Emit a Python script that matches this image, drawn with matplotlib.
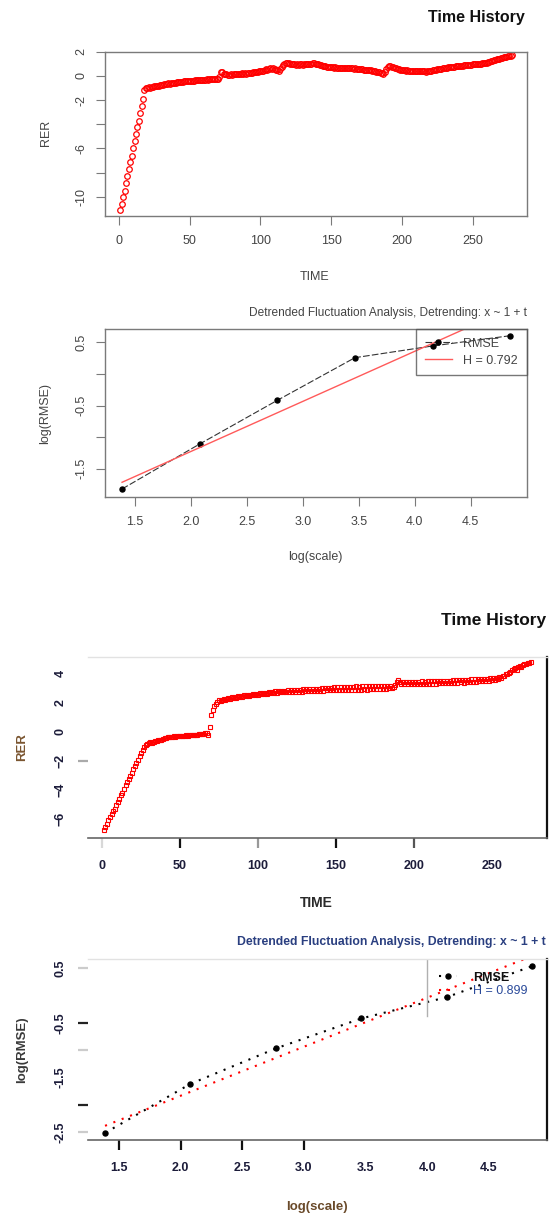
import numpy as np
import matplotlib
matplotlib.use("Agg")
import matplotlib.pyplot as plt
from matplotlib.lines import Line2D

plt.rcParams['font.family'] = ['Liberation Sans', 'DejaVu Sans']

# ---------------- data ----------------
rer_a = [
    -11.1, -10.6, -10.0, -9.5, -8.9, -8.3, -7.7, -7.1, -6.6, -6.0,
    -5.4, -4.8, -4.2, -3.7, -3.1, -2.5, -1.9, -1.15, -0.98, -1.02,
    -0.95, -0.97, -0.90, -0.92, -0.85, -0.88, -0.82, -0.80, -0.78, -0.74,
    -0.76, -0.70, -0.68, -0.66, -0.63, -0.65, -0.60, -0.58, -0.56, -0.57,
    -0.53, -0.50, -0.52, -0.48, -0.47, -0.45, -0.46, -0.44, -0.42, -0.40,
    -0.41, -0.39, -0.40, -0.37, -0.36, -0.38, -0.35, -0.33, -0.34, -0.32,
    -0.31, -0.30, -0.32, -0.29, -0.28, -0.30, -0.27, -0.25, -0.29, -0.26,
    -0.10, 0.28, 0.30, 0.18, 0.12, 0.15, 0.10, 0.08, 0.12, 0.10,
    0.14, 0.12, 0.16, 0.13, 0.18, 0.15, 0.20, 0.17, 0.22, 0.19,
    0.21, 0.24, 0.20, 0.26, 0.30, 0.28, 0.34, 0.32, 0.38, 0.40,
    0.44, 0.42, 0.50, 0.55, 0.52, 0.60, 0.64, 0.58, 0.62, 0.55,
    0.50, 0.46, 0.44, 0.58, 0.75, 0.92, 1.02, 1.06, 1.08, 1.04,
    1.00, 0.98, 0.95, 0.97, 0.93, 0.96, 0.94, 0.97, 0.95, 0.92,
    0.96, 0.99, 0.97, 1.00, 1.02, 0.98, 1.03, 1.05, 1.01, 0.99,
    0.96, 0.92, 0.88, 0.84, 0.80, 0.78, 0.74, 0.76, 0.72, 0.70,
    0.72, 0.69, 0.71, 0.68, 0.66, 0.69, 0.67, 0.65, 0.68, 0.66,
    0.64, 0.66, 0.63, 0.61, 0.64, 0.60, 0.62, 0.59, 0.57, 0.58,
    0.55, 0.53, 0.50, 0.52, 0.48, 0.46, 0.49, 0.45, 0.43, 0.41,
    0.38, 0.36, 0.33, 0.30, 0.26, 0.20, 0.16, 0.30, 0.55, 0.72,
    0.82, 0.80, 0.76, 0.72, 0.68, 0.62, 0.58, 0.55, 0.50, 0.48,
    0.46, 0.47, 0.44, 0.45, 0.42, 0.44, 0.41, 0.43, 0.40, 0.42,
    0.39, 0.41, 0.38, 0.40, 0.37, 0.39, 0.36, 0.38, 0.40, 0.42,
    0.44, 0.46, 0.48, 0.50, 0.53, 0.55, 0.57, 0.60, 0.62, 0.64,
    0.66, 0.69, 0.71, 0.73, 0.75, 0.77, 0.76, 0.79, 0.81, 0.80,
    0.83, 0.85, 0.84, 0.87, 0.89, 0.88, 0.91, 0.93, 0.92, 0.95,
    0.97, 0.96, 0.99, 1.01, 0.99, 1.02, 1.04, 1.03, 1.06, 1.08,
    1.12, 1.16, 1.20, 1.24, 1.28, 1.32, 1.36, 1.40, 1.43, 1.47,
    1.50, 1.53, 1.57, 1.60, 1.63, 1.65, 1.68, 1.70,
]
time_a = np.arange(1, len(rer_a) + 1)

rer_b = [
    -6.80, -6.55, -6.35, -6.10, -5.90, -5.70, -5.45, -5.30, -5.05, -4.85,
    -4.65, -4.40, -4.20, -3.95, -3.70, -3.50, -3.25, -3.05, -2.85, -2.60,
    -2.40, -2.15, -1.95, -1.70, -1.50, -1.25, -1.05, -0.92, -0.85, -0.78,
    -0.72, -0.75, -0.68, -0.64, -0.66, -0.60, -0.55, -0.58, -0.50, -0.46,
    -0.44, -0.40, -0.36, -0.38, -0.34, -0.33, -0.35, -0.31, -0.32, -0.30,
    -0.29, -0.28, -0.30, -0.26, -0.27, -0.25, -0.26, -0.24, -0.22, -0.23,
    -0.20, -0.18, -0.16, -0.17, -0.13, -0.12, -0.10, -0.20, 0.32, 1.15,
    1.50, 1.75, 1.90, 2.05, 2.15, 2.10, 2.18, 2.22, 2.20, 2.26,
    2.30, 2.24, 2.36, 2.32, 2.38, 2.33, 2.44, 2.38, 2.45, 2.41,
    2.50, 2.44, 2.52, 2.47, 2.56, 2.50, 2.58, 2.53, 2.62, 2.56,
    2.66, 2.58, 2.68, 2.62, 2.70, 2.63, 2.74, 2.66, 2.75, 2.68,
    2.78, 2.69, 2.80, 2.71, 2.81, 2.72, 2.83, 2.73, 2.84, 2.75,
    2.86, 2.74, 2.88, 2.76, 2.87, 2.77, 2.90, 2.76, 2.91, 2.79,
    2.92, 2.78, 2.94, 2.80, 2.93, 2.81, 2.96, 2.80, 2.97, 2.83,
    2.98, 2.82, 3.02, 2.84, 3.00, 2.85, 3.04, 2.84, 3.05, 2.86,
    3.06, 2.85, 3.08, 2.87, 3.07, 2.88, 3.09, 2.86, 3.10, 2.89,
    3.11, 2.88, 3.12, 2.90, 3.10, 2.89, 3.13, 2.91, 3.12, 2.90,
    3.14, 2.92, 3.13, 2.93, 3.15, 2.92, 3.14, 2.94, 3.16, 2.95,
    3.15, 2.96, 3.17, 2.98, 3.14, 3.00, 3.08, 3.20, 3.40, 3.55,
    3.42, 3.30, 3.44, 3.28, 3.42, 3.26, 3.45, 3.29, 3.43, 3.27,
    3.46, 3.28, 3.44, 3.30, 3.47, 3.29, 3.45, 3.31, 3.48, 3.30,
    3.47, 3.32, 3.49, 3.31, 3.50, 3.33, 3.48, 3.34, 3.51, 3.33,
    3.52, 3.35, 3.50, 3.37, 3.54, 3.36, 3.55, 3.38, 3.53, 3.40,
    3.57, 3.39, 3.58, 3.42, 3.56, 3.44, 3.60, 3.43, 3.62, 3.46,
    3.60, 3.47, 3.64, 3.49, 3.63, 3.50, 3.66, 3.52, 3.68, 3.54,
    3.70, 3.56, 3.72, 3.60, 3.75, 3.70, 3.82, 3.84, 3.95, 3.98,
    4.06, 4.14, 4.22, 4.30, 4.40, 4.26, 4.45, 4.52, 4.44, 4.60,
    4.64, 4.70, 4.76, 4.72, 4.83,
]
time_b = np.arange(1, len(rer_b) + 1)

scales = [4, 8, 16, 32, 64, 128]
log_scale = np.log(scales)
log_rmse_a = [-1.818, -1.107, -0.417, 0.257, 0.442, 0.604]
hurst_a, icpt_a = 0.792, -2.81
log_rmse_b = [-2.52, -1.62, -0.97, -0.42, -0.03, 0.54]
hurst_b, icpt_b = 0.899, -3.636

x_ticks_time = [0, 50, 100, 150, 200, 250]
x_ticks_log = [1.5, 2.0, 2.5, 3.0, 3.5, 4.0, 4.5]
title_dfa = "Detrended Fluctuation Analysis, Detrending: x ~ 1 + t"

# ---------------- layout helpers ----------------
W, H = 549, 1218
fig = plt.figure(figsize=(W / 100, H / 100), dpi=100)


def ax_at(x0, x1, y0, y1):
    return fig.add_axes([x0 / W, 1 - y1 / H, (x1 - x0) / W, (y1 - y0) / H])


def ftext(x, y, s, **kw):
    fig.text(x / W, 1 - y / H, s, **kw)


GRAY = '#7a7a7a'


def r_style(ax):
    for sp in ax.spines.values():
        sp.set_color(GRAY)
        sp.set_linewidth(1.0)
    ax.tick_params(axis='both', direction='out', length=6.3, width=0.8,
                   color=GRAY, labelsize=9, labelcolor='#444444')
    ax.tick_params(axis='x', pad=7.5)
    ax.tick_params(axis='y', pad=6.5)
    for lab in ax.get_yticklabels():
        lab.set_rotation(90)
        lab.set_va('center')


# ---------------- panel 1 ----------------
ax1 = ax_at(105, 526.8, 51.7, 216)
ax1.plot(time_a, rer_a, ls='none', marker='o', mfc='none', mec='red',
         ms=4.0, mew=0.9)
ax1.set_xlim(-9.9, 288.4)
ax1.set_ylim(-11.6, 2.0)
ax1.set_xticks(x_ticks_time)
ax1.set_yticks([2, 0, -2, -4, -6, -8, -10])
ax1.set_yticklabels(['2', '0', '-2', '', '-6', '', '-10'])
r_style(ax1)
ftext(525, 17.5, 'Time History', ha='right', va='center', fontsize=11.5,
      fontweight='bold', color='#111111')
ftext(315, 276.7, 'TIME', ha='center', va='center', fontsize=9, color='#444444')
ftext(45.5, 133, 'RER', ha='center', va='center', rotation=90, fontsize=9,
      color='#444444')

# ---------------- panel 2 ----------------
ax2 = ax_at(105, 526.8, 329, 496.7)
ax2.plot(log_scale, log_rmse_a, color='#333333', ls=(0, (6, 2)), lw=0.8,
         marker='o', ms=3.6, mfc='black', mec='black', label='RMSE')
ax2.plot(log_scale, icpt_a + hurst_a * log_scale, color='#ff5a5a', lw=1.0,
         label='H = %.3f' % hurst_a)
ax2.set_xlim(1.234, 5.0)
ax2.set_ylim(-1.94, 0.71)
ax2.set_xticks(x_ticks_log)
ax2.set_yticks([0.5, 0.0, -0.5, -1.0, -1.5])
ax2.set_yticklabels(['0.5', '', '-0.5', '', '-1.5'])
r_style(ax2)
leg = ax2.legend(loc='upper right', bbox_to_anchor=(1, 1), borderaxespad=0,
                 fancybox=False, fontsize=9, handlelength=2.2,
                 handletextpad=0.9, borderpad=0.7, labelspacing=0.4)
leg.get_frame().set_edgecolor('#555555')
leg.get_frame().set_linewidth(1.0)
leg.get_frame().set_facecolor('none')
for t in leg.get_texts():
    t.set_color('#444444')
ftext(526.8, 313.3, title_dfa, ha='right', va='center', fontsize=8.6,
      color='#444444')
ftext(315, 556.7, 'log(scale)', ha='center', va='center', fontsize=9,
      color='#444444')
ftext(45.5, 413, 'log(RMSE)', ha='center', va='center', rotation=90,
      fontsize=9, color='#444444')


def odd_style(ax, xtick_cols, ytick_cols):
    ax.spines['left'].set_visible(False)
    ax.spines['top'].set_color('#e2e2e2')
    ax.spines['top'].set_linewidth(1.0)
    ax.spines['right'].set_color('#111111')
    ax.spines['right'].set_linewidth(1.6)
    ax.spines['bottom'].set_color('#666666')
    ax.spines['bottom'].set_linewidth(1.2)
    ax.tick_params(axis='both', direction='out', length=7, width=1.6,
                   labelsize=9, labelcolor='#1c1c3a')
    ax.tick_params(axis='x', pad=9)
    ax.tick_params(axis='y', pad=8)
    for tk, c in zip(ax.xaxis.get_major_ticks(), xtick_cols):
        tk.tick1line.set_markeredgecolor(c)
    for tk, c in zip(ax.yaxis.get_major_ticks(), ytick_cols):
        tk.tick1line.set_markeredgecolor(c)
    for lab in ax.get_xticklabels() + ax.get_yticklabels():
        lab.set_fontweight('bold')
    for lab in ax.get_yticklabels():
        lab.set_rotation(90)
        lab.set_va('center')


# ---------------- panel 3 ----------------
ax3 = ax_at(87.5, 546.7, 656.7, 837.7)
ax3.plot(time_b, rer_b, ls='none', marker='s', mfc='none', mec='red',
         ms=3.2, mew=0.8)
ax3.set_xlim(-9.43, 285.3)
ax3.set_ylim(-7.31, 5.17)
ax3.set_xticks(x_ticks_time)
ax3.set_yticks([4, 2, 0, -2, -4, -6])
odd_style(ax3, ['#d8d8d8', '#111111', '#999999', '#111111', '#555555', 'none'],
          ['none', 'none', 'none', '#aaaaaa', 'none', 'none'])
ftext(546, 620, 'Time History', ha='right', va='center', fontsize=12.5,
      fontweight='bold', color='#111111')
ftext(316.8, 903.3, 'TIME', ha='center', va='center', fontsize=10,
      fontweight='bold', color='#2a2a2a')
ftext(21.7, 746.7, 'RER', ha='center', va='center', rotation=90, fontsize=9.5,
      fontweight='bold', color='#7a5530')

# ---------------- panel 4 ----------------
ax4 = ax_at(87.5, 546.7, 959.3, 1140)
dotted = (0, (1, 3.3))
ax4.plot(log_scale, log_rmse_b, color='black', ls=dotted, lw=1.5,
         marker='o', ms=3.6, mfc='black', mec='black', label='RMSE')
ax4.plot(log_scale, icpt_b + hurst_b * log_scale, color='red', ls=dotted,
         lw=1.5, label='H = %.3f' % hurst_b)
ax4.set_xlim(1.244, 4.97)
ax4.set_ylim(-2.65, 0.665)
ax4.set_xticks(x_ticks_log)
ax4.set_yticks([0.5, 0.0, -0.5, -1.0, -1.5, -2.0, -2.5])
ax4.set_yticklabels(['0.5', '', '-0.5', '', '-1.5', '', '-2.5'])
odd_style(ax4, ['#111111'] * 4 + ['none'] * 3,
          ['#cccccc', 'none', '#222222', '#cccccc', 'none', '#222222', '#cccccc'])
lx = (426.5 - 87.5) / (546.7 - 87.5)
ax4.add_line(Line2D([lx, lx], [1, (1140 - 1016) / (1140 - 959.3)],
                    transform=ax4.transAxes, color='#b0b0b0', lw=1.0))
leg4 = ax4.legend(loc='upper left', bbox_to_anchor=(lx, 1), borderaxespad=0,
                  frameon=False, fontsize=9, handlelength=1.4,
                  handletextpad=1.3, borderpad=1.0, labelspacing=0.1)
txts = leg4.get_texts()
txts[0].set_color('#111111')
txts[0].set_fontweight('bold')
txts[1].set_color('#2a4a9a')
ftext(546, 942.3, title_dfa, ha='right', va='center', fontsize=8.8,
      fontweight='bold', color='#2a3f80')
ftext(316.8, 1206.7, 'log(scale)', ha='center', va='center', fontsize=9.5,
      fontweight='bold', color='#6a4a2a')
ftext(21.7, 1050, 'log(RMSE)', ha='center', va='center', rotation=90,
      fontsize=9.5, fontweight='bold', color='#3a3a3a')

fig.savefig('out.png', dpi=100)
